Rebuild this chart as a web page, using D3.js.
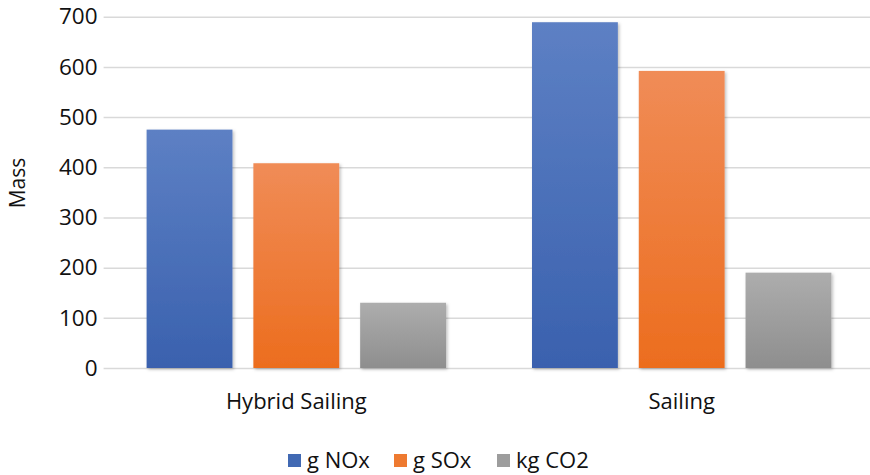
<!DOCTYPE html>
<html>
<head>
<meta charset="utf-8">
<script src="https://cdn.jsdelivr.net/npm/d3@7"></script>
<style>
  html, body { margin: 0; padding: 0; background: #fff; }
  svg { display: block; font-family: "Open Sans", "Noto Sans", sans-serif; }
</style>
</head>
<body>
<svg id="chart" width="870" height="475"></svg>
<script>
// Emissions per voyage mode
const categories = ["Hybrid Sailing", "Sailing"];
const seriesNames = ["g NOx", "g SOx", "kg CO2"];
const noxValues = [475, 689];
const soxValues = [408, 592];
const co2Values = [130, 190];
const yTicks = [0, 100, 200, 300, 400, 500, 600, 700];
const yTitle = "Mass";

const seriesValues = [noxValues, soxValues, co2Values];
const seriesColors = [
  { top: "#5d80c4", bottom: "#3a61ae", swatch: "#4169b3" },
  { top: "#f08c57", bottom: "#ec6d1e", swatch: "#ee7a30" },
  { top: "#adadad", bottom: "#8e8e8e", swatch: "#9d9d9d" }
];

const svg = d3.select("#chart");
const margin = { left: 103.6, right: -4.4, top: 16.7, bottom: 107 };
const W = 870, H = 475;

const x0 = d3.scaleBand()
  .domain(categories)
  .range([margin.left, W - margin.right])
  .paddingInner(0)
  .paddingOuter(0);

const x1 = d3.scaleBand()
  .domain(seriesNames)
  .range([43, x0.bandwidth() - 43])
  .paddingInner(0.196);

const y = d3.scaleLinear()
  .domain([0, 700])
  .range([H - margin.bottom, margin.top]);

const defs = svg.append("defs");
seriesColors.forEach((c, i) => {
  const g = defs.append("linearGradient")
    .attr("id", "grad" + i)
    .attr("x1", 0).attr("y1", 0).attr("x2", 0).attr("y2", 1);
  g.append("stop").attr("offset", "0%").attr("stop-color", c.top);
  g.append("stop").attr("offset", "100%").attr("stop-color", c.bottom);
});
const shadow = defs.append("filter").attr("id", "shadow")
  .attr("x", "-10%").attr("y", "-10%").attr("width", "130%").attr("height", "130%");
shadow.append("feDropShadow")
  .attr("dx", 1.5).attr("dy", 1.5).attr("stdDeviation", 1.5)
  .attr("flood-color", "#000").attr("flood-opacity", 0.25);

// Horizontal gridlines and y tick labels
const yAxis = d3.axisLeft(y)
  .tickValues(yTicks)
  .tickSize(-(W - margin.left))
  .tickPadding(6)
  .tickFormat(d3.format("d"));

const yg = svg.append("g")
  .attr("transform", `translate(${margin.left},0)`)
  .call(yAxis);
yg.select(".domain").remove();
yg.selectAll(".tick line")
  .attr("stroke", "#d9d9d9")
  .attr("stroke-width", 1.5);
yg.selectAll(".tick text")
  .attr("fill", "#111")
  .attr("font-size", 22.5)
  .attr("font-family", "Open Sans, sans-serif");

// Bars
const groups = svg.append("g").selectAll("g")
  .data(categories)
  .join("g")
  .attr("transform", d => `translate(${x0(d)},0)`);

groups.selectAll("rect")
  .data((d, ci) => seriesNames.map((s, si) => ({ s, si, v: seriesValues[si][ci] })))
  .join("rect")
  .attr("x", d => x1(d.s))
  .attr("width", x1.bandwidth())
  .attr("y", d => y(d.v))
  .attr("height", d => y(0) - y(d.v))
  .attr("fill", d => `url(#grad${d.si})`)
  .attr("filter", "url(#shadow)");

// Category axis labels
const xAxis = d3.axisBottom(x0).tickSize(0).tickPadding(25);
const xg = svg.append("g")
  .attr("transform", `translate(0,${y(0)})`)
  .call(xAxis);
xg.select(".domain").remove();
xg.selectAll(".tick text")
  .attr("fill", "#111")
  .attr("font-size", 22)
  .attr("font-family", "Open Sans, sans-serif");

// Y axis title
svg.append("text")
  .attr("transform", `translate(25,183) rotate(-90)`)
  .attr("text-anchor", "middle")
  .attr("font-size", 21)
  .attr("fill", "#111")
  .text(yTitle);

// Legend
const legendX = [288, 394, 497];
const legend = svg.append("g");
seriesNames.forEach((name, i) => {
  legend.append("rect")
    .attr("x", legendX[i]).attr("y", 454)
    .attr("width", 13).attr("height", 13)
    .attr("fill", seriesColors[i].swatch);
  legend.append("text")
    .attr("x", legendX[i] + 19).attr("y", 468)
    .attr("font-size", 22)
    .attr("fill", "#111")
    .text(name);
});
</script>
</body>
</html>
